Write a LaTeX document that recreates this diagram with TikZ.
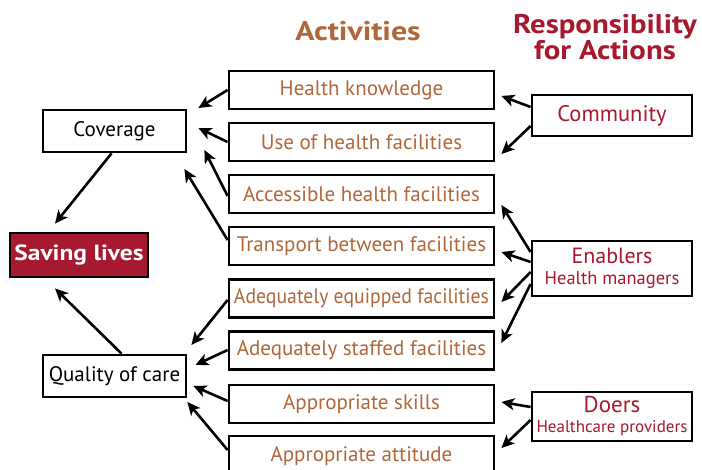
\documentclass[tikz,border=0pt]{standalone}
\usepackage{fontspec}
\setmainfont{PT Sans}
\usetikzlibrary{arrows.meta,calc}
\definecolor{brn}{HTML}{B0673A}
\definecolor{crim}{HTML}{A6192E}
\begin{document}
\begin{tikzpicture}[x=1pt,y=-1pt,
  box/.style={draw=black,line width=2.8pt,fill=white,inner sep=0pt,minimum height=38pt},
  act/.style={box,minimum width=265pt,text=brn,font=\fontsize{21}{24}\selectfont},
  outc/.style={box,minimum width=143pt,minimum height=42pt,font=\fontsize{21}{24}\selectfont},
  resp/.style={box,minimum width=160pt,text=crim,align=center},
  arr/.style={line width=2.6pt,-{Stealth[length=13pt,width=12pt,inset=3.5pt]}}]
\useasboundingbox (0,0) rectangle (702,470);
\clip (0,0) rectangle (702,470);
% titles
\node[text=brn,font=\bfseries\fontsize{27}{28}\selectfont] (tact) at (358,31) {\scalebox{1.18}[1]{Activities}};
\node[text=crim,font=\bfseries\fontsize{27}{23}\selectfont,align=center] (tresp) at (605,37) {\scalebox{1.14}[1]{Responsibility}\\\scalebox{1.14}[1]{for Actions}};
% activities
\node[act] (hk) at (361.5,90) {Health knowledge};
\node[act] (use) at (361.5,142) {Use of health facilities};
\node[act] (acc) at (361.5,194) {Accessible health facilities};
\node[act] (tra) at (361.5,246) {Transport between facilities};
\node[act] (equ) at (361.5,298.5) {\scalebox{0.94}[1]{Adequately equipped facilities}};
\node[act] (sta) at (361.5,350.5) {Adequately staffed facilities};
\node[act] (ski) at (361.5,404) {Appropriate skills};
\node[act,minimum height=40pt] (att) at (361.5,456) {Appropriate attitude};
% outcomes
\node[outc] (cov) at (114.5,131) {Coverage};
\node[outc] (qoc) at (114.5,376) {Quality of care};
\node[box,fill=crim,minimum width=138pt,minimum height=44pt,text=white,font=\bfseries\fontsize{22}{24}\selectfont] (sav) at (79,255) {\scalebox{1.16}[1]{Saving lives}};
% responsibility
\node[resp,minimum height=41pt,font=\fontsize{22.5}{24}\selectfont] (com) at (612,115.5) {Community};
\node[resp,minimum height=55pt,font=\fontsize{18.5}{21}\selectfont] (ena) at (612,268.5) {{\fontsize{22}{22}\selectfont Enablers}\\Health managers};
\node[resp,minimum height=49pt,font=\fontsize{17}{20}\selectfont] (doe) at (612,416.5) {{\fontsize{23}{22}\selectfont Doers}\\Healthcare providers};
% arrows to coverage
\draw[arr] ($(hk.west)+(0,0)$) -- ($(cov.east)+(11,-23)$);
\draw[arr] ($(use.west)+(0,0)$) -- ($(cov.east)+(11,-3)$);
\draw[arr] ($(acc.west)+(0,2)$) -- ($(cov.east)+(17,19)$);
\draw[arr] ($(tra.west)+(0,-6)$) -- ($(cov.east)+(-3,38)$);
% to saving lives
\draw[arr] ($(cov.south)+(-3,0)$) -- ($(sav.north)+(-24,-8)$);
\draw[arr] ($(qoc.north)+(7,0)$) -- ($(sav.south)+(-24,10)$);
% to quality
\draw[arr] ($(equ.west)+(0,1.5)$) -- ($(qoc.east)+(4,-31)$);
\draw[arr] ($(sta.west)+(0,-0.5)$) -- ($(qoc.east)+(8,-11)$);
\draw[arr] ($(ski.west)+(0,-3)$) -- ($(qoc.east)+(6,10)$);
\draw[arr] ($(att.west)+(0,-6)$) -- ($(qoc.east)+(0,26)$);
% from responsibility
\draw[arr] ($(com.west)+(0,-8.5)$) -- ($(hk.east)+(6,6)$);
\draw[arr] ($(com.west)+(0,10.5)$) -- ($(use.east)+(6,12)$);
\draw[arr] ($(ena.west)+(0,-16.5)$) -- ($(acc.east)+(6,11)$);
\draw[arr] ($(ena.west)+(0,-6.5)$) -- ($(tra.east)+(6,6)$);
\draw[arr] ($(ena.west)+(0,3.5)$) -- ($(equ.east)+(6,3.5)$);
\draw[arr] ($(ena.west)+(0,15.5)$) -- ($(sta.east)+(6,-7.5)$);
\draw[arr] ($(doe.west)+(0,-9.5)$) -- ($(ski.east)+(6,-2)$);
\draw[arr] ($(doe.west)+(0,3.5)$) -- ($(att.east)+(6,-8)$);
\end{tikzpicture}
\end{document}
